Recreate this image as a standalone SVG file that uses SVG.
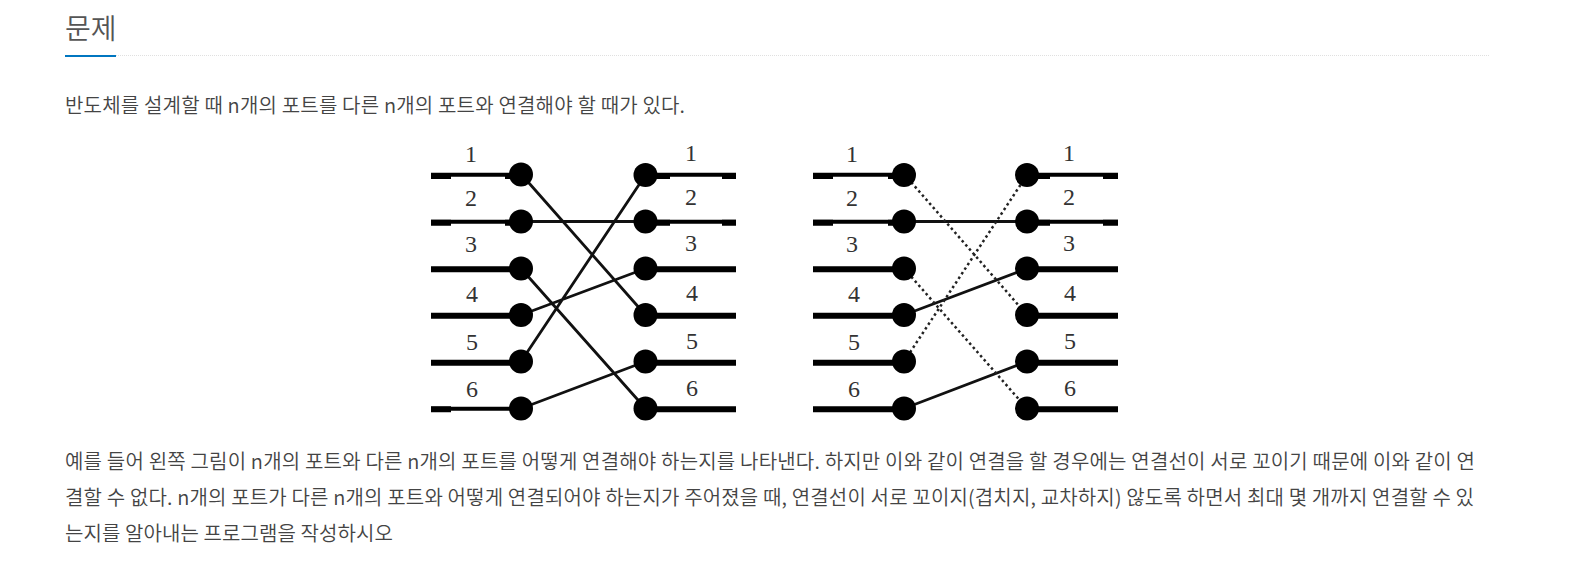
<svg xmlns="http://www.w3.org/2000/svg" width="1583" height="570" viewBox="0 0 1583 570">
<style>
.t{font-family:"Noto Sans CJK KR","Noto Sans",sans-serif;font-size:20px;fill:#444;font-weight:350}
.h{font-family:"Noto Sans CJK KR","Noto Sans",sans-serif;font-size:28px;fill:#555;font-weight:350}
.n{font-family:"Liberation Serif",serif;font-size:24px;fill:#333;text-anchor:middle}
.p{stroke:#000;stroke-width:6;fill:none}
.p2{stroke:#000;stroke-width:4;fill:none}
.c{stroke:#111;stroke-width:2.8;fill:none}
.d{stroke:#222;stroke-width:2.5;stroke-dasharray:2.500 3;fill:none}
circle{fill:#000}
</style>
<rect width="1583" height="570" fill="#fff"/>
<g id="heading">
<text class="h" x="65" y="39">문제</text>
<line x1="116" y1="55.5" x2="1490" y2="55.5" stroke="#e0e0e0" stroke-dasharray="1 1"/>
<rect x="65" y="55" width="51" height="2" fill="#0076c0"/>
</g>
<text class="t" x="65" y="113" textLength="620" lengthAdjust="spacing">반도체를 설계할 때 n개의 포트를 다른 n개의 포트와 연결해야 할 때가 있다.</text>
<g id="connectors">
<path class="p2" d="M431 174.700H521M645 174.700H736M431 221.700H521M645 221.700H736"/>
<path class="p" d="M431 176H451M505 176H521M645 176H670M722 176H736M431 222.700H451M505 222.700H521M645 222.700H670M722 222.700H736M431 269.300H521M645 269.300H736M431 315.700H521M645 315.700H736M431 362.700H521M645 362.700H736M431 409.300H451M645 409.300H736"/>
<path class="p2" d="M431 408.700H521"/>
<path class="c" d="M521 174L645.500 315M521 221.500H645.500M521 268.500L645.500 408.500M521 315L645.500 268.500M521 361.500L645.500 175M521 408.500L645.500 361.500"/>
<path class="p2" d="M813 174.700H904M1027 174.700H1118M813 221.700H904M1027 221.700H1118"/>
<path class="p" d="M813 176H833M888 176H904M1027 176H1050M1103 176H1118M813 222.700H833M888 222.700H904M1027 222.700H1050M1103 222.700H1118M813 269.300H904M1027 269.300H1118M813 315.700H904M1027 315.700H1118M813 362.700H904M1027 362.700H1118M813 409.300H904M1027 409.300H1118"/>
<path class="c" d="M904 221.500H1027M904 315L1027 268.500M904 408.500L1027 361.500"/>
<path class="d" d="M904 174L1027 315M904 268.500L1027 408.500M904 361.500L1027 175"/>
</g>
<g id="left-ports">
<circle cx="521" cy="174.500" r="12"/><circle cx="521" cy="221.500" r="12"/><circle cx="521" cy="268.500" r="12"/><circle cx="521" cy="315" r="12"/><circle cx="521" cy="361.500" r="12"/><circle cx="521" cy="408.500" r="12"/>
<circle cx="645.500" cy="175" r="12"/><circle cx="645.500" cy="221.500" r="12"/><circle cx="645.500" cy="268.500" r="12"/><circle cx="645.500" cy="315" r="12"/><circle cx="645.500" cy="361.500" r="12"/><circle cx="645.500" cy="408.500" r="12"/>
</g>
<g id="right-ports">
<circle cx="904" cy="175" r="12"/><circle cx="904" cy="221.500" r="12"/><circle cx="904" cy="268.500" r="12"/><circle cx="904" cy="315" r="12"/><circle cx="904" cy="361.500" r="12"/><circle cx="904" cy="408.500" r="12"/>
<circle cx="1027" cy="175" r="12"/><circle cx="1027" cy="221.500" r="12"/><circle cx="1027" cy="268.500" r="12"/><circle cx="1027" cy="315" r="12"/><circle cx="1027" cy="361.500" r="12"/><circle cx="1027" cy="408.500" r="12"/>
</g>
<g id="labels">
<text class="n" x="471" y="162">1</text><text class="n" x="471" y="206">2</text><text class="n" x="471" y="252">3</text><text class="n" x="472" y="302">4</text><text class="n" x="472" y="350">5</text><text class="n" x="472" y="397">6</text>
<text class="n" x="691" y="161">1</text><text class="n" x="691" y="205">2</text><text class="n" x="691" y="251">3</text><text class="n" x="692" y="301">4</text><text class="n" x="692" y="349">5</text><text class="n" x="692" y="396">6</text>
<text class="n" x="852" y="162">1</text><text class="n" x="852" y="206">2</text><text class="n" x="852" y="252">3</text><text class="n" x="854" y="302">4</text><text class="n" x="854" y="350">5</text><text class="n" x="854" y="397">6</text>
<text class="n" x="1069" y="161">1</text><text class="n" x="1069" y="205">2</text><text class="n" x="1069" y="251">3</text><text class="n" x="1070" y="301">4</text><text class="n" x="1070" y="349">5</text><text class="n" x="1070" y="396">6</text>
</g>
<text class="t" x="65" y="469" textLength="1410" lengthAdjust="spacing">예를 들어 왼쪽 그림이 n개의 포트와 다른 n개의 포트를 어떻게 연결해야 하는지를 나타낸다. 하지만 이와 같이 연결을 할 경우에는 연결선이 서로 꼬이기 때문에 이와 같이 연</text>
<text class="t" x="65" y="505" textLength="1409" lengthAdjust="spacing">결할 수 없다. n개의 포트가 다른 n개의 포트와 어떻게 연결되어야 하는지가 주어졌을 때, 연결선이 서로 꼬이지(겹치지, 교차하지) 않도록 하면서 최대 몇 개까지 연결할 수 있</text>
<text class="t" x="65" y="541" textLength="328" lengthAdjust="spacing">는지를 알아내는 프로그램을 작성하시오</text>
</svg>
